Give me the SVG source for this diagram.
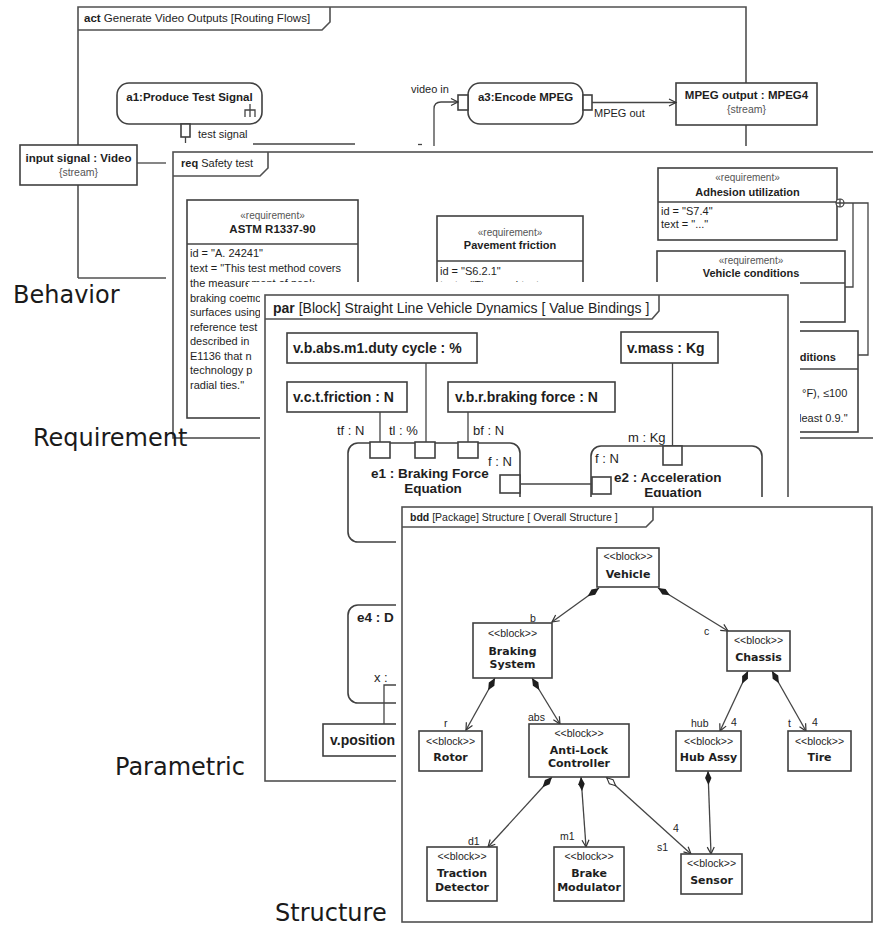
<svg xmlns="http://www.w3.org/2000/svg" width="873" height="928" viewBox="0 0 873 928">
  <defs>
    <style>
      .ln{fill:none;stroke:#444;stroke-width:1.3}
      .fr{fill:#fff;stroke:#505050;stroke-width:1.6}
      .frn{fill:none;stroke:#505050;stroke-width:1.6}
      .bx{fill:#fff;stroke:#404040;stroke-width:1.6}
      .sheet{fill:#fff;stroke:none}
      .t{font-family:"Liberation Sans",Arial,sans-serif;fill:#1e1e1e}
      .dv{font-family:"DejaVu Sans",Verdana,sans-serif;fill:#1e1e1e}
      .b{font-weight:bold}
      .c{text-anchor:middle}
      .g{fill:#555}
      .side{font-family:"DejaVu Sans",Verdana,sans-serif;font-size:24px;fill:#1a1a1a}
    </style>
    <marker id="open" viewBox="-8 -5 10 10" refX="0" refY="0" markerWidth="10" markerHeight="10" markerUnits="userSpaceOnUse" orient="auto">
      <path d="M-7,-3.5 L0,0 L-7,3.5" fill="none" stroke="#333" stroke-width="1.2"/>
    </marker>
    <marker id="dia" viewBox="0 -4 16 8" refX="0" refY="0" markerWidth="16" markerHeight="8" markerUnits="userSpaceOnUse" orient="auto">
      <path d="M0,0 L7,-3.2 L14,0 L7,3.2 Z" fill="#1e1e1e"/>
    </marker>
    <marker id="odia" viewBox="0 -4 16 8" refX="0" refY="0" markerWidth="16" markerHeight="8" markerUnits="userSpaceOnUse" orient="auto">
      <path d="M1,0 L7,-2.8 L13,0 L7,2.8 Z" fill="#fff" stroke="#333" stroke-width="1.1"/>
    </marker>
  </defs>

  <rect width="873" height="928" fill="#fff"/>

  <!-- ===== Activity diagram ===== -->
  <g id="act-diagram">
    <path class="frn" d="M78,278 V7 H746 V152"/>
    <path class="frn" d="M78,278 H166"/>
    <path class="frn" d="M78,30 H322 L330,22 V7"/>
    <text class="t" x="84" y="22" font-size="11.5"><tspan class="b">act</tspan> Generate Video Outputs [Routing Flows]</text>

    <g id="a1">
      <rect class="bx" x="117" y="83" width="145" height="41" rx="12"/>
      <text class="t b c" x="189.5" y="101" font-size="11.5">a1:Produce Test Signal</text>
      <path class="ln" d="M250,104 V117 M245,117 V110 H255 V117"/>
      <rect class="bx" x="181" y="124" width="9" height="13" stroke-width="1.2"/>
      <text class="t" x="198" y="138" font-size="11">test signal</text>
    </g>

    <g id="a3">
      <rect class="bx" x="468" y="83" width="115" height="41" rx="12"/>
      <text class="t b c" x="525.5" y="101" font-size="11.5">a3:Encode MPEG</text>
      <rect class="bx" x="458" y="95" width="10" height="15" stroke-width="1.2"/>
      <rect class="bx" x="583" y="95" width="9" height="15" stroke-width="1.2"/>
      <text class="t" x="411" y="93" font-size="11">video in</text>
      <text class="t" x="594" y="117" font-size="11">MPEG out</text>
    </g>

    <g id="mpeg-output">
      <rect class="bx" x="676" y="83" width="141" height="42"/>
      <text class="t b c" x="746.5" y="99" font-size="11.5">MPEG output : MPEG4</text>
      <text class="t c g" x="746.5" y="113" font-size="10.5">{stream}</text>
    </g>

    <g id="act-connectors">
      <path class="ln" d="M185.5,137 V143"/>
      <path class="ln" d="M253,144 H355"/>
      <path class="ln" d="M418,144.5 H422" stroke-width="2"/>
      <path class="ln" d="M434,146 V109 Q434,102 441,102 H458" marker-end="url(#open)"/>
      <path class="ln" d="M592,102.5 H676" marker-end="url(#open)"/>
      <path class="ln" d="M137,163 H166"/>
    </g>

    <g id="input-signal">
      <rect class="bx" x="20" y="145" width="117" height="40"/>
      <text class="t b c" x="78.5" y="162" font-size="11.5">input signal : Video</text>
      <text class="t c g" x="78.5" y="176" font-size="10.5">{stream}</text>
    </g>
  </g>

  <!-- ===== Requirement diagram ===== -->
  <g id="req-diagram">
    <rect class="sheet" x="166" y="146" width="707" height="298"/>
    <rect class="fr" x="173" y="152" width="712" height="286"/>
    <path class="frn" d="M173,176 H260 L268,168 V152"/>
    <text class="t" x="181" y="167" font-size="11"><tspan class="b">req</tspan> Safety test</text>

    <g id="astm">
      <rect class="bx" x="187" y="200" width="171" height="218"/>
      <path class="ln" d="M187,244 H358" stroke-width="1.6"/>
      <text class="t c g" x="272.5" y="219" font-size="10">«requirement»</text>
      <text class="t b c" x="272.5" y="233" font-size="11.5">ASTM R1337-90</text>
      <g class="t" font-size="11" fill="#333">
        <text x="190" y="257">id = "A. 24241"</text>
        <text x="190" y="272">text = "This test method covers</text>
        <text x="190" y="287">the measurement of peak</text>
        <text x="190" y="302">braking coeffic</text>
        <text x="190" y="316">surfaces using</text>
        <text x="190" y="331">reference test</text>
        <text x="190" y="345">described in</text>
        <text x="190" y="360">E1136 that n</text>
        <text x="190" y="374">technology p</text>
        <text x="190" y="389">radial ties."</text>
      </g>
    </g>

    <g id="pavement-friction">
      <rect class="bx" x="437" y="216" width="146" height="100"/>
      <path class="ln" d="M437,261 H583" stroke-width="1.6"/>
      <text class="t c g" x="510" y="236" font-size="10">«requirement»</text>
      <text class="t b c" x="510" y="249" font-size="11">Pavement friction</text>
      <text class="t" x="440" y="275" font-size="11" fill="#333">id = "S6.2.1"</text>
      <text class="t" x="440" y="289" font-size="11" fill="#333">text = "The road test</text>
    </g>

    <g id="adhesion">
      <rect class="bx" x="658" y="168" width="179" height="72"/>
      <path class="ln" d="M658,202 H837" stroke-width="1.6"/>
      <text class="t c g" x="747.5" y="181" font-size="10">«requirement»</text>
      <text class="t b c" x="747.5" y="196" font-size="11">Adhesion utilization</text>
      <text class="t" x="661" y="215" font-size="11" fill="#333">id = "S7.4"</text>
      <text class="t" x="661" y="228" font-size="11" fill="#333">text = "..."</text>
      <circle cx="840" cy="203" r="4" fill="#fff" stroke="#333" stroke-width="1.1"/>
      <path class="ln" d="M836,203 H844 M840,199 V207" stroke-width="1"/>
    </g>

    <g id="vehicle-conditions">
      <rect class="bx" x="657" y="251" width="188" height="71"/>
      <path class="ln" d="M657,283 H845" stroke-width="1.6"/>
      <text class="t c g" x="751" y="264" font-size="10">«requirement»</text>
      <text class="t b c" x="751" y="277" font-size="11">Vehicle conditions</text>
    </g>

    <g id="conditions">
      <rect class="bx" x="660" y="331" width="198" height="101"/>
      <path class="ln" d="M660,369 H858" stroke-width="1.6"/>
      <text class="t b" x="793" y="361" font-size="11">nditions</text>
      <text class="t" x="802" y="397" font-size="11" fill="#333">°F), ≤100</text>
      <text class="t" x="799" y="422" font-size="11" fill="#333">least 0.9."</text>
    </g>

    <g id="req-connectors">
      <path class="ln" d="M844,203 H868 V355 H858"/>
      <path class="ln" d="M853,203 V287 H845"/>
    </g>
  </g>

  <!-- ===== Parametric diagram ===== -->
  <g id="par-diagram">
    <path class="sheet" d="M248,282 H800 V790 H260 V296 H248 Z"/>
    <rect class="fr" x="265" y="295" width="523" height="486"/>
    <path class="frn" d="M265,319 H652 L659,311 V295"/>
    <text class="t" x="273" y="313" font-size="14"><tspan class="b">par</tspan> [Block] Straight Line Vehicle Dynamics [ Value Bindings ]</text>

    <g id="duty-cycle">
      <rect class="bx" x="287" y="333" width="190" height="30"/>
      <text class="t b" x="293" y="353" font-size="14">v.b.abs.m1.duty cycle : %</text>
    </g>
    <g id="friction">
      <rect class="bx" x="287" y="382" width="120" height="30"/>
      <text class="t b" x="293" y="402" font-size="14">v.c.t.friction : N</text>
    </g>
    <g id="braking-force">
      <rect class="bx" x="448" y="382" width="167" height="30"/>
      <text class="t b" x="455" y="402" font-size="14">v.b.r.braking force : N</text>
    </g>
    <g id="mass">
      <rect class="bx" x="621" y="332" width="97" height="31"/>
      <text class="t b" x="627" y="353" font-size="14">v.mass : Kg</text>
    </g>

    <g id="e1">
      <rect class="bx" x="348" y="443" width="172" height="99" rx="10"/>
      <rect class="bx" x="370" y="442" width="20" height="16" stroke-width="1.3"/>
      <rect class="bx" x="415" y="442" width="20" height="16" stroke-width="1.3"/>
      <rect class="bx" x="458" y="442" width="20" height="16" stroke-width="1.3"/>
      <rect class="bx" x="500" y="475" width="20" height="18" stroke-width="1.3"/>
      <text class="t" x="337" y="435" font-size="13">tf : N</text>
      <text class="t" x="389" y="435" font-size="13">tl : %</text>
      <text class="t" x="473" y="435" font-size="13">bf : N</text>
      <text class="t" x="488" y="466" font-size="13">f : N</text>
      <text class="t b c" x="430" y="478" font-size="13.5">e1 : Braking Force</text>
      <text class="t b c" x="433" y="493" font-size="13.5">Equation</text>
    </g>

    <g id="e2">
      <rect class="bx" x="591" y="446" width="171" height="120" rx="10"/>
      <rect class="bx" x="663" y="446" width="19" height="19" stroke-width="1.3"/>
      <rect class="bx" x="592" y="477" width="19" height="17" stroke-width="1.3"/>
      <text class="t" x="628" y="442" font-size="13">m : Kg</text>
      <text class="t" x="595" y="463" font-size="13">f : N</text>
      <text class="t b" x="614" y="482" font-size="13.5">e2 : Acceleration</text>
      <text class="t b c" x="673" y="497" font-size="13.5">Equation</text>
    </g>

    <g id="e4">
      <rect class="bx" x="348" y="605" width="150" height="98" rx="10"/>
      <text class="t b" x="357" y="622" font-size="13.5">e4 : D</text>
      <text class="t" x="374" y="682" font-size="13" fill="#777">x :</text>
      <path class="ln" d="M384,703 V685 H404" stroke-width="1.4"/>
    </g>

    <g id="position">
      <rect class="bx" x="323" y="724" width="150" height="32"/>
      <text class="t b" x="330" y="745" font-size="14">v.position</text>
    </g>

    <g id="par-connectors">
      <path class="ln" d="M380,412 V442"/>
      <path class="ln" d="M426,363 V442"/>
      <path class="ln" d="M468,412 V442"/>
      <path class="ln" d="M672.5,363 V446"/>
      <path class="ln" d="M520,484 H592"/>
      <path class="ln" d="M384,703 V724"/>
    </g>
  </g>

  <!-- ===== Block definition diagram ===== -->
  <g id="bdd-diagram">
    <rect class="sheet" x="396" y="497" width="477" height="431"/>
    <rect class="fr" x="402" y="507" width="470" height="415"/>
    <path class="frn" d="M402,527 H646 L653,520 V507"/>
    <text class="t" x="410" y="521" font-size="10.5"><tspan class="b">bdd</tspan> [Package] Structure [ Overall Structure ]</text>

    <g id="bdd-connectors">
      <path class="ln" d="M599,588 L552,622" marker-start="url(#dia)" marker-end="url(#open)"/>
      <path class="ln" d="M658,588 L728,631" marker-start="url(#dia)" marker-end="url(#open)"/>
      <path class="ln" d="M495,678 L466,730" marker-start="url(#dia)" marker-end="url(#open)"/>
      <path class="ln" d="M532,678 L560,724" marker-start="url(#dia)" marker-end="url(#open)"/>
      <path class="ln" d="M748,671 L720,731" marker-start="url(#dia)" marker-end="url(#open)"/>
      <path class="ln" d="M772,671 L806,731" marker-start="url(#dia)" marker-end="url(#open)"/>
      <path class="ln" d="M552,777 L488,847" marker-start="url(#dia)" marker-end="url(#open)"/>
      <path class="ln" d="M581,777 L586,847" marker-start="url(#dia)" marker-end="url(#open)"/>
      <path class="ln" d="M606,777 L691,854" marker-start="url(#odia)" marker-end="url(#open)"/>
      <path class="ln" d="M708,771 L711,854" marker-start="url(#dia)" marker-end="url(#open)"/>
      <g class="t" font-size="10.5" fill="#333">
        <text x="530" y="622">b</text>
        <text x="704" y="635">c</text>
        <text x="444" y="727">r</text>
        <text x="528" y="721">abs</text>
        <text x="691" y="727">hub</text>
        <text x="731" y="726">4</text>
        <text x="788" y="727">t</text>
        <text x="812" y="726">4</text>
        <text x="468" y="845">d1</text>
        <text x="560" y="840">m1</text>
        <text x="673" y="832">4</text>
        <text x="657" y="851">s1</text>
      </g>
    </g>

    <g id="vehicle">
      <rect class="bx" x="597" y="548" width="62" height="39"/>
      <text class="t c" x="628" y="560" font-size="10.5">&lt;&lt;block&gt;&gt;</text>
      <text class="dv b c" x="628" y="578" font-size="11">Vehicle</text>
    </g>
    <g id="braking-system">
      <rect class="bx" x="473" y="623" width="79" height="55"/>
      <text class="t c" x="512.5" y="637" font-size="10.5">&lt;&lt;block&gt;&gt;</text>
      <text class="dv b c" x="512.5" y="655" font-size="11">Braking</text>
      <text class="dv b c" x="512.5" y="668" font-size="11">System</text>
    </g>
    <g id="chassis">
      <rect class="bx" x="727" y="631" width="63" height="40"/>
      <text class="t c" x="758.5" y="644" font-size="10.5">&lt;&lt;block&gt;&gt;</text>
      <text class="dv b c" x="758.5" y="661" font-size="11">Chassis</text>
    </g>
    <g id="rotor">
      <rect class="bx" x="419" y="731" width="63" height="40"/>
      <text class="t c" x="450.5" y="745" font-size="10.5">&lt;&lt;block&gt;&gt;</text>
      <text class="dv b c" x="450.5" y="761" font-size="11">Rotor</text>
    </g>
    <g id="anti-lock-controller">
      <rect class="bx" x="529" y="724" width="100" height="53"/>
      <text class="t c" x="579" y="737" font-size="10.5">&lt;&lt;block&gt;&gt;</text>
      <text class="dv b c" x="579" y="754" font-size="11">Anti-Lock</text>
      <text class="dv b c" x="579" y="767" font-size="11">Controller</text>
    </g>
    <g id="hub-assy">
      <rect class="bx" x="676" y="731" width="65" height="40"/>
      <text class="t c" x="708.5" y="745" font-size="10.5">&lt;&lt;block&gt;&gt;</text>
      <text class="dv b c" x="708.5" y="761" font-size="11">Hub Assy</text>
    </g>
    <g id="tire">
      <rect class="bx" x="788" y="731" width="63" height="40"/>
      <text class="t c" x="819.5" y="745" font-size="10.5">&lt;&lt;block&gt;&gt;</text>
      <text class="dv b c" x="819.5" y="761" font-size="11">Tire</text>
    </g>
    <g id="traction-detector">
      <rect class="bx" x="427" y="847" width="70" height="54"/>
      <text class="t c" x="462" y="860" font-size="10.5">&lt;&lt;block&gt;&gt;</text>
      <text class="dv b c" x="462" y="877" font-size="11">Traction</text>
      <text class="dv b c" x="462" y="891" font-size="11">Detector</text>
    </g>
    <g id="brake-modulator">
      <rect class="bx" x="554" y="847" width="70" height="54"/>
      <text class="t c" x="589" y="860" font-size="10.5">&lt;&lt;block&gt;&gt;</text>
      <text class="dv b c" x="589" y="877" font-size="11">Brake</text>
      <text class="dv b c" x="589" y="891" font-size="11">Modulator</text>
    </g>
    <g id="sensor">
      <rect class="bx" x="681" y="854" width="61" height="40"/>
      <text class="t c" x="711.5" y="867" font-size="10.5">&lt;&lt;block&gt;&gt;</text>
      <text class="dv b c" x="711.5" y="884" font-size="11">Sensor</text>
    </g>
  </g>

  <!-- ===== Captions ===== -->
  <g id="captions">
    <text class="side" x="13" y="303">Behavior</text>
    <text class="side" x="33" y="446">Requirement</text>
    <text class="side" x="115" y="775">Parametric</text>
    <text class="side" x="275" y="921">Structure</text>
  </g>
</svg>
